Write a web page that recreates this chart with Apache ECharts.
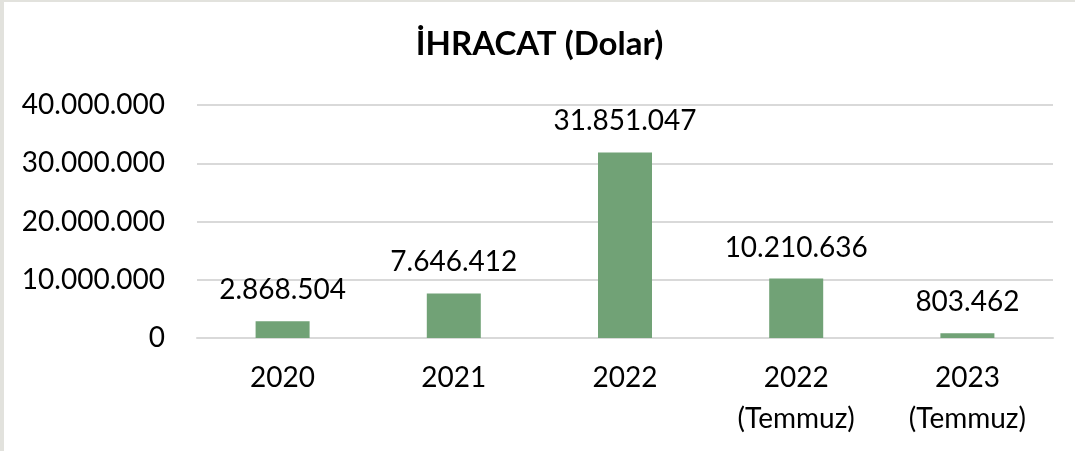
<!DOCTYPE html>
<html>
<head>
<meta charset="utf-8">
<script src="https://cdn.jsdelivr.net/npm/echarts@6/dist/echarts.min.js"></script>
<style>
  html, body { margin: 0; padding: 0; background: #fff; }
  #frame { width: 1075px; height: 451px; box-sizing: border-box;
           border-left: 4px solid #e2e2dd; border-top: 2px solid #e2e2dd; }
  #chart { width: 1071px; height: 449px; }
</style>
</head>
<body>
<div id="frame"><div id="chart"></div></div>
<script>
// Export figures, US dollars
const titleText = 'İHRACAT (Dolar)';
const categories = ['2020', '2021', '2022', '2022\n(Temmuz)', '2023\n(Temmuz)'];
const exportValues = [2868504, 7646412, 31851047, 10210636, 803462];
const yTicks = { min: 0, max: 40000000, interval: 10000000 };

const FONT = 'Lato, "Open Sans", sans-serif';
const fmt = v => String(v).replace(/\B(?=(\d{3})+(?!\d))/g, '.');

const chart = echarts.init(document.getElementById('chart'), null, { renderer: 'canvas' });
chart.setOption({
  animation: false,
  title: {
    text: titleText,
    left: 'center',
    top: 21,
    textStyle: { fontFamily: FONT, fontSize: 33, fontWeight: 'bold', color: '#000' }
  },
  grid: { left: 193, right: 22, top: 103, bottom: 113 },
  xAxis: {
    type: 'category',
    data: categories,
    axisLine: { show: true, lineStyle: { color: '#d9d9d9', width: 2 } },
    axisTick: { show: false },
    axisLabel: {
      fontFamily: FONT, fontSize: 28, color: '#000', margin: 19, lineHeight: 41
    }
  },
  yAxis: {
    type: 'value',
    min: yTicks.min, max: yTicks.max, interval: yTicks.interval,
    axisLine: { show: false },
    axisTick: { show: false },
    splitLine: { lineStyle: { color: '#d9d9d9', width: 2 } },
    axisLabel: {
      fontFamily: FONT, fontSize: 28, color: '#000', margin: 32,
      formatter: v => fmt(v)
    }
  },
  series: [{
    type: 'bar',
    data: exportValues,
    barWidth: 54,
    itemStyle: { color: '#71a276' },
    label: {
      show: true,
      position: 'top',
      distance: 17,
      fontFamily: FONT, fontSize: 28, color: '#000',
      formatter: p => fmt(p.value)
    }
  }]
});
</script>
</body>
</html>
